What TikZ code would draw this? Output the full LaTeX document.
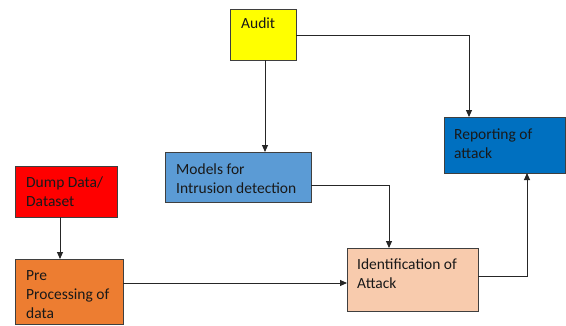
\documentclass[tikz,border=0pt]{standalone}
\usepackage{fontspec}
\setmainfont{Carlito}
\usetikzlibrary{arrows.meta}
\definecolor{edgegray}{HTML}{3F3F3F}
\definecolor{auditfill}{HTML}{FFFF00}
\definecolor{dumpfill}{HTML}{FF0000}
\definecolor{prefill}{HTML}{ED7D31}
\definecolor{modelfill}{HTML}{5B9BD5}
\definecolor{identfill}{HTML}{F8CBAD}
\definecolor{reportfill}{HTML}{0070C0}
\tikzset{
  blockbox/.style={draw=edgegray, line width=1pt},
  blocktext/.style={anchor=north west, inner sep=0pt, align=left,
    font=\fontsize{15.5}{19}\selectfont, text=black!90},
  flow/.style={draw=black!85, line width=0.9pt,
    -{Triangle[length=7pt,width=6pt]}},
}
\begin{document}
\begin{tikzpicture}[x=1pt,y=-1pt]
\useasboundingbox (0,0) rectangle (566,325);
\fill[white] (0,0) rectangle (566,325);
% blocks
\draw[blockbox, fill=auditfill]  (230,9)   rectangle (296,60);
\draw[blockbox, fill=modelfill]  (165,152) rectangle (311,202);
\draw[blockbox, fill=dumpfill]   (15,166)  rectangle (117,217);
\draw[blockbox, fill=prefill]    (15,259)  rectangle (123,324);
\draw[blockbox, fill=identfill]  (347,248) rectangle (478,311);
\draw[blockbox, fill=reportfill] (444,117) rectangle (565,173);
% anchor points of the blocks
\coordinate (auditR)  at (296,35);
\coordinate (auditB)  at (265,60);
\coordinate (modelT)  at (265,152);
\coordinate (modelR)  at (311,185);
\coordinate (dumpB)   at (60,217);
\coordinate (preT)    at (60,259);
\coordinate (preR)    at (123,283);
\coordinate (identL)  at (347,283);
\coordinate (identT)  at (389,248);
\coordinate (identR)  at (478,276);
\coordinate (reportT) at (469,117);
\coordinate (reportB) at (527,173);
% labels
\node[blocktext] (audit)  at (241,18)  {Audit};
\node[blocktext] (models) at (176,164) {Models for\\Intrusion detection};
\node[blocktext] (dump)   at (26,177)  {Dump Data/\\Dataset};
\node[blocktext] (pre)    at (26,270)  {Pre\\Processing of\\data};
\node[blocktext] (ident)  at (357,259) {Identification of\\Attack};
\node[blocktext] (report) at (454,129) {Reporting of\\attack};
% connectors
\draw[flow] (auditR) -| (reportT);
\draw[flow] (auditB) -- (modelT);
\draw[flow] (modelR) -| (identT);
\draw[flow] (dumpB) -- (preT);
\draw[flow] (preR) -- (identL);
\draw[flow] (identR) -| (reportB);
\end{tikzpicture}
\end{document}
